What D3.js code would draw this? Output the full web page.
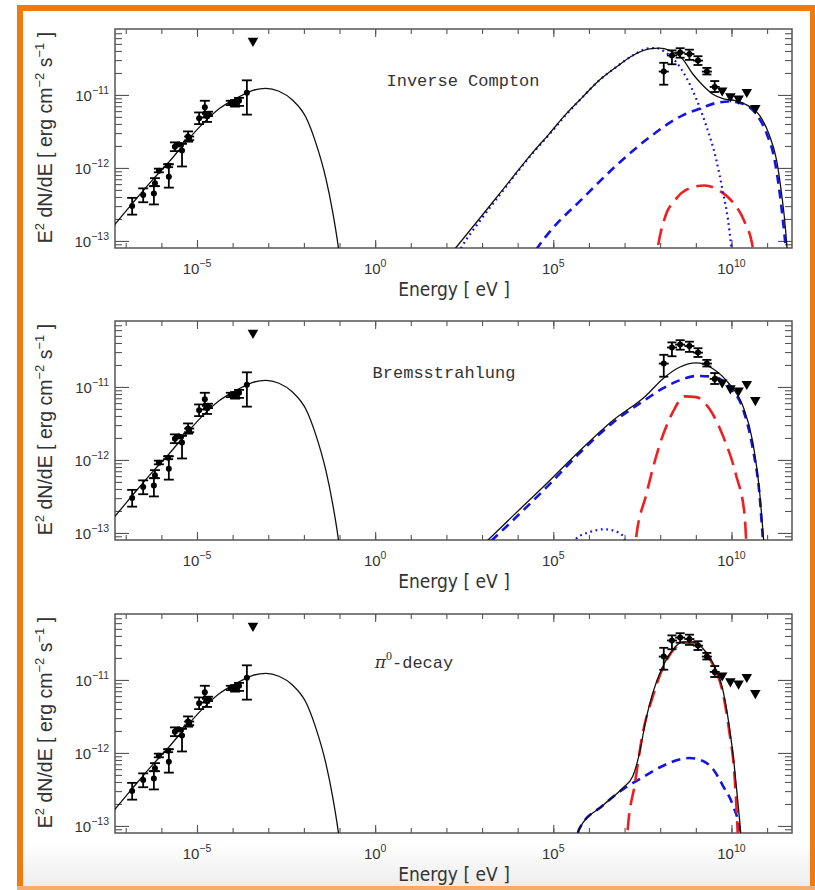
<!DOCTYPE html>
<html><head><meta charset="utf-8">
<script src="https://cdn.jsdelivr.net/npm/d3@7"></script>
<style>body{margin:0;background:#fff}svg{display:block}</style>
</head><body>
<script>
// ---- DATA : [log10 E (eV), log10 E^2 dN/dE (erg cm^-2 s^-1)] ----
const panelTitles = ["Inverse Compton", "Bremsstrahlung", "pi0-decay"];
const xTickLabels = [-5, 0, 5, 10];          // exponents of labelled x ticks
const yTickLabels = [-11, -12, -13];         // exponents of labelled y ticks

// radio points: [logE, logF, logF_low, logF_high]
const radioPoints = [
  [-6.82,-12.52,-12.64,-12.41],[-6.51,-12.37,-12.47,-12.28],[-6.21,-12.35,-12.50,-12.25],
  [-6.18,-12.21,-12.25,-12.14],[-6.07,-12.04,-12.06,-12.01],[-5.81,-11.97,-11.99,-11.95],
  [-5.79,-12.12,-12.27,-11.95],[-5.62,-11.71,-11.77,-11.65],[-5.51,-11.68,-11.70,-11.66],
  [-5.42,-11.76,-11.98,-11.67],[-5.25,-11.57,-11.64,-11.50],[-5.22,-11.60,-11.62,-11.57],
  [-4.94,-11.32,-11.40,-11.24],[-4.78,-11.17,-11.31,-11.08],[-4.72,-11.29,-11.37,-11.26],
  [-4.69,-11.26,-11.29,-11.23],[-4.05,-11.11,-11.14,-11.08],[-3.93,-11.12,-11.16,-11.07],
  [-3.82,-11.08,-11.15,-11.04],[-3.60,-10.97,-11.27,-10.80]
];
const radioUpperLimits = [[-3.43,-10.26]];
// gamma-ray points: [logE, logF, logF_low, logF_high]
const gammaPoints = [
  [8.10,-10.68,-10.86,-10.56],[8.33,-10.46,-10.58,-10.39],[8.56,-10.42,-10.49,-10.36],
  [8.82,-10.44,-10.52,-10.38],[9.06,-10.53,-10.59,-10.47],[9.31,-10.68,-10.72,-10.63],
  [9.53,-10.89,-10.96,-10.81]
];
const gammaUpperLimits = [[9.74,-10.94],[9.97,-11.02],[10.20,-11.05],[10.43,-10.96],[10.67,-11.18]];

// model curves
const synchrotron = [[-7.45,-12.86],[-6.82,-12.49],[-6.26,-12.17],[-5.79,-11.92],[-5.32,-11.65],[-4.85,-11.40],
  [-4.38,-11.19],[-3.91,-11.05],[-3.45,-10.94],[-3.07,-10.91],[-2.70,-10.95],[-2.32,-11.07],[-1.95,-11.30],
  [-1.67,-11.65],[-1.38,-12.15],[-1.20,-12.58],[-1.04,-13.06],[-0.95,-13.40]];

const icTotal = [[2.0,-13.25],[2.27,-13.09],[2.92,-12.70],[3.48,-12.36],[4.42,-11.79],[4.89,-11.53],[5.36,-11.26],
  [5.82,-11.03],[6.29,-10.80],[6.76,-10.62],[7.23,-10.46],[7.70,-10.37],[7.98,-10.36],[8.26,-10.39],[8.63,-10.51],
  [8.91,-10.71],[9.20,-10.87],[9.48,-10.99],[9.76,-11.05],[10.13,-11.08],[10.51,-11.16],[10.79,-11.28],
  [11.07,-11.56],[11.26,-11.88],[11.40,-12.33],[11.49,-12.70],[11.56,-13.10],[11.60,-13.40]];
const icDotted = [[2.2,-13.30],[2.41,-13.10],[2.92,-12.74],[3.48,-12.38],[4.42,-11.80],[4.89,-11.54],[5.36,-11.27],
  [5.82,-11.03],[6.29,-10.80],[6.76,-10.62],[7.23,-10.46],[7.70,-10.36],[7.90,-10.36],[8.16,-10.42],[8.45,-10.55],
  [8.73,-10.76],[9.01,-11.05],[9.29,-11.42],[9.57,-11.88],[9.76,-12.33],[9.90,-12.70],[9.99,-13.07],[10.05,-13.40]];
const icDashed = [[4.3,-13.30],[4.56,-13.09],[4.89,-12.88],[5.82,-12.42],[6.76,-11.97],[7.70,-11.58],[8.63,-11.28],
  [9.10,-11.19],[9.57,-11.11],[9.94,-11.09],[10.32,-11.12],[10.69,-11.26],[10.98,-11.52],[11.21,-11.89],
  [11.35,-12.33],[11.44,-12.70],[11.52,-13.10],[11.56,-13.40]];
const icRed = [[7.85,-13.40],[7.93,-13.10],[8.12,-12.70],[8.45,-12.42],[8.82,-12.28],[9.24,-12.24],[9.66,-12.31],
  [10.04,-12.47],[10.37,-12.74],[10.60,-13.10],[10.68,-13.40]];

const brTotal = [[2.95,-13.20],[3.86,-12.77],[4.80,-12.33],[5.73,-11.88],[6.67,-11.46],[7.60,-11.12],
  [8.07,-10.89],[8.54,-10.73],[9.01,-10.67],[9.48,-10.75],[9.94,-10.96],[10.32,-11.26],[10.60,-11.76],
  [10.79,-12.44],[10.90,-13.08],[10.95,-13.40]];
const brDashed = [[2.95,-13.25],[3.86,-12.83],[4.80,-12.38],[5.73,-11.91],[6.67,-11.49],[7.60,-11.17],
  [8.07,-11.02],[8.54,-10.91],[9.01,-10.85],[9.48,-10.86],[9.94,-11.00],[10.32,-11.30],[10.60,-11.85],
  [10.79,-12.49],[10.88,-13.08],[10.93,-13.40]];
const brRed = [[7.25,-13.40],[7.32,-13.08],[7.60,-12.49],[7.98,-11.80],[8.35,-11.35],[8.68,-11.13],[9.01,-11.14],
  [9.38,-11.30],[9.76,-11.67],[10.13,-12.21],[10.37,-12.76],[10.41,-13.08],[10.44,-13.40]];
const brDotted = [[5.55,-13.30],[5.64,-13.08],[6.01,-12.99],[6.43,-12.95],[6.85,-13.00],[6.99,-13.08],[7.05,-13.30]];

const piTotal = [[5.6,-13.30],[5.73,-13.04],[6.39,-12.72],[6.95,-12.48],[7.23,-12.32],[7.42,-12.00],[7.60,-11.54],
  [7.79,-11.18],[8.07,-10.82],[8.35,-10.59],[8.63,-10.48],[8.91,-10.48],[9.20,-10.57],[9.48,-10.77],[9.76,-11.14],
  [9.94,-11.64],[10.08,-12.18],[10.17,-12.63],[10.25,-13.04],[10.30,-13.40]];
const piBlue = [[5.6,-13.30],[5.73,-13.04],[6.39,-12.72],[6.95,-12.50],[7.42,-12.36],[7.98,-12.20],[8.54,-12.09],
  [8.82,-12.07],[9.20,-12.11],[9.48,-12.22],[9.76,-12.45],[10.04,-12.72],[10.22,-13.04],[10.28,-13.30]];
const piRed = [[7.05,-13.40],[7.09,-13.04],[7.28,-12.45],[7.51,-11.73],[7.79,-11.23],[8.07,-10.84],[8.35,-10.60],
  [8.63,-10.49],[8.91,-10.49],[9.20,-10.58],[9.48,-10.79],[9.76,-11.18],[9.94,-11.71],[10.08,-12.27],
  [10.17,-13.04],[10.20,-13.40]];

// ---- STYLE / LAYOUT ----
const W = 815, H = 890;
const BLUE = "#1414e6", RED = "#f01e1e", AX = "#555", TXT = "#333";
const styles = {
  solid:  {stroke:"#111", width:1.3, dash:null},
  dashed: {stroke:BLUE, width:2.6, dash:"9,6"},
  dotted: {stroke:BLUE, width:2.2, dash:"1.8,3.6"},
  red:    {stroke:RED,  width:2.6, dash:"17,8"}
};
const panels = [
  {top:29,  title:panelTitles[0], tx:463, ty:86, curves:[[icRed,"red"],[icDashed,"dashed"],[icDotted,"dotted"],[synchrotron,"solid"],[icTotal,"solid"]]},
  {top:321, title:panelTitles[1], tx:444, ty:378, curves:[[brRed,"red"],[brDotted,"dotted"],[brDashed,"dashed"],[synchrotron,"solid"],[brTotal,"solid"]]},
  {top:614, title:panelTitles[2], tx:414, ty:668, curves:[[piBlue,"dashed"],[piRed,"red"],[synchrotron,"solid"],[piTotal,"solid"]]}
];
const PH = 219, L = 115, R = 792;

const svg = d3.select("body").append("svg").attr("width", W).attr("height", H);
const defs = svg.append("defs");
const grad = defs.append("linearGradient").attr("id","bg").attr("x1",0).attr("x2",0).attr("y1",0).attr("y2",1);
grad.append("stop").attr("offset","0").attr("stop-color","#ffffff");
grad.append("stop").attr("offset","1").attr("stop-color","#ededed");
svg.append("rect").attr("x",0).attr("y",0).attr("width",W).attr("height",H).attr("fill","#fff");
svg.append("rect").attr("x",20).attr("y",842).attr("width",W-20).attr("height",44).attr("fill","url(#bg)");
// orange frame
svg.append("rect").attr("x",17).attr("y",5).attr("width",W-17).attr("height",6).attr("fill","#ef7a10");
svg.append("rect").attr("x",17).attr("y",5).attr("width",6).attr("height",H-5).attr("fill","#ef7a10");
svg.append("rect").attr("x",W-5).attr("y",5).attr("width",5).attr("height",H-5).attr("fill","#ef7a10");
svg.append("rect").attr("x",17).attr("y",886).attr("width",W-17).attr("height",4).attr("fill","#f5ad6e");

const x = d3.scaleLog().domain([5e-8, 5e11]).range([L, R]);
const decadesX = d3.range(-7, 12).map(e => Math.pow(10, e));
const pw = v => Math.pow(10, v);
const expText = e => (e < 0 ? "\u2212" : "") + Math.abs(e);

panels.forEach((p, i) => {
  const y = d3.scaleLog().domain([8e-14, 8e-11]).range([p.top + PH, p.top]);
  const g = svg.append("g");
  const clipId = "clip" + i;
  defs.append("clipPath").attr("id", clipId).append("rect")
    .attr("x", L).attr("y", p.top).attr("width", R - L).attr("height", PH);

  // axes ticks
  const majorY = [-13,-12,-11].map(pw);
  const minorY = [];
  [-14,-13,-12,-11].forEach(e => { for (let k = 2; k <= 9; k++) { const v = k * Math.pow(10, e); if (v > 8e-14 && v < 8e-11) minorY.push(v); } });
  const axStyle = sel => { sel.select(".domain").remove(); sel.selectAll("text").remove(); sel.selectAll("line").attr("stroke", AX).attr("stroke-width", 1.1); };
  g.append("g").attr("transform", `translate(0,${p.top + PH})`).call(d3.axisBottom(x).tickValues(decadesX).tickSize(-5)).call(axStyle);
  g.append("g").attr("transform", `translate(0,${p.top + PH})`).call(d3.axisBottom(x).tickValues(xTickLabels.map(pw)).tickSize(-8)).call(axStyle);
  g.append("g").attr("transform", `translate(0,${p.top})`).call(d3.axisTop(x).tickValues(decadesX).tickSize(-5)).call(axStyle);
  g.append("g").attr("transform", `translate(0,${p.top})`).call(d3.axisTop(x).tickValues(xTickLabels.map(pw)).tickSize(-8)).call(axStyle);
  g.append("g").attr("transform", `translate(${L},0)`).call(d3.axisLeft(y).tickValues(majorY).tickSize(-14)).call(axStyle);
  g.append("g").attr("transform", `translate(${L},0)`).call(d3.axisLeft(y).tickValues(minorY).tickSize(-7)).call(axStyle);
  g.append("g").attr("transform", `translate(${R},0)`).call(d3.axisRight(y).tickValues(majorY).tickSize(-14)).call(axStyle);
  g.append("g").attr("transform", `translate(${R},0)`).call(d3.axisRight(y).tickValues(minorY).tickSize(-7)).call(axStyle);
  g.append("rect").attr("x", L).attr("y", p.top).attr("width", R - L).attr("height", PH)
    .attr("fill", "none").attr("stroke", AX).attr("stroke-width", 1.5);

  // tick labels
  xTickLabels.forEach(e => {
    const t = g.append("text").attr("x", x(pw(e))).attr("y", p.top + PH + 26).attr("text-anchor", "middle")
      .attr("font-family", "Liberation Sans, Arial, sans-serif").attr("font-size", 15).attr("fill", TXT);
    t.append("tspan").text("10");
    t.append("tspan").attr("dy", -7).attr("font-size", 10.5).text(expText(e));
  });
  yTickLabels.forEach(e => {
    const t = g.append("text").attr("x", L - 6).attr("y", y(pw(e)) + 6).attr("text-anchor", "end")
      .attr("font-family", "Liberation Sans, Arial, sans-serif").attr("font-size", 15).attr("fill", TXT);
    t.append("tspan").text("10");
    t.append("tspan").attr("dy", -7).attr("font-size", 10.5).text(expText(e));
  });

  // axis titles
  g.append("text").attr("x", 454).attr("y", p.top + PH + 48).attr("text-anchor", "middle")
    .attr("font-family", "Liberation Sans Narrow, DejaVu Sans Condensed, sans-serif").attr("font-size", 19).attr("fill", TXT)
    .text("Energy [ eV ]");
  const yl = g.append("text").attr("transform", `translate(52,${p.top + PH / 2 - 1}) rotate(-90)`).attr("text-anchor", "middle")
    .attr("font-family", "Liberation Sans, Arial, sans-serif").attr("font-size", 19.5).attr("fill", TXT);
  yl.append("tspan").text("E");
  yl.append("tspan").attr("dy", -8).attr("font-size", 13).text("2");
  yl.append("tspan").attr("dy", 8).text(" dN/dE [ erg cm");
  yl.append("tspan").attr("dy", -8).attr("font-size", 13).text("\u22122");
  yl.append("tspan").attr("dy", 8).text(" s");
  yl.append("tspan").attr("dy", -8).attr("font-size", 13).text("\u22121");
  yl.append("tspan").attr("dy", 8).text(" ]");

  // panel title
  const tt = g.append("text").attr("x", p.tx).attr("y", p.ty).attr("text-anchor", "middle")
    .attr("font-family", "Liberation Mono, Courier New, monospace").attr("font-size", 17).attr("fill", TXT);
  if (i === 2) {
    tt.append("tspan").attr("font-family", "DejaVu Serif, Liberation Serif, serif").attr("font-style", "italic").text("\u03c0");
    tt.append("tspan").attr("dy", -8).attr("font-size", 12).attr("font-family", "Liberation Serif, serif").text("0");
    tt.append("tspan").attr("dy", 8).text("-decay");
  } else tt.text(p.title);

  // model curves
  const line = d3.line().x(d => x(pw(d[0]))).y(d => y(pw(d[1]))).curve(d3.curveMonotoneX);
  const cg = g.append("g").attr("clip-path", `url(#${clipId})`);
  p.curves.forEach(([data, st]) => {
    const s = styles[st];
    cg.append("path").attr("d", line(data)).attr("fill", "none").attr("stroke", s.stroke)
      .attr("stroke-width", s.width).attr("stroke-dasharray", s.dash);
  });

  // data points
  const dg = g.append("g").attr("stroke", "#000").attr("fill", "#000");
  const drawErr = (pts, cap, hbar) => pts.forEach(d => {
    const cx = x(pw(d[0])), cy = y(pw(d[1])), lo = y(pw(d[2])), hi = y(pw(d[3]));
    dg.append("line").attr("x1", cx).attr("x2", cx).attr("y1", lo).attr("y2", hi).attr("stroke-width", 1.8);
    dg.append("line").attr("x1", cx - cap).attr("x2", cx + cap).attr("y1", lo).attr("y2", lo).attr("stroke-width", 1.8);
    dg.append("line").attr("x1", cx - cap).attr("x2", cx + cap).attr("y1", hi).attr("y2", hi).attr("stroke-width", 1.8);
    if (hbar) dg.append("line").attr("x1", cx - hbar).attr("x2", cx + hbar).attr("y1", cy).attr("y2", cy).attr("stroke-width", 1.8);
    dg.append("circle").attr("cx", cx).attr("cy", cy).attr("r", 3).attr("stroke", "none");
  });
  drawErr(radioPoints, 5, 0);
  drawErr(gammaPoints, 4.5, 5);
  const tri = d3.symbol().type(d3.symbolTriangle).size(48);
  radioUpperLimits.concat(gammaUpperLimits).forEach(d => {
    dg.append("path").attr("d", tri()).attr("stroke", "none")
      .attr("transform", `translate(${x(pw(d[0]))},${y(pw(d[1]))}) rotate(180)`);
  });
});
</script>
</body></html>
